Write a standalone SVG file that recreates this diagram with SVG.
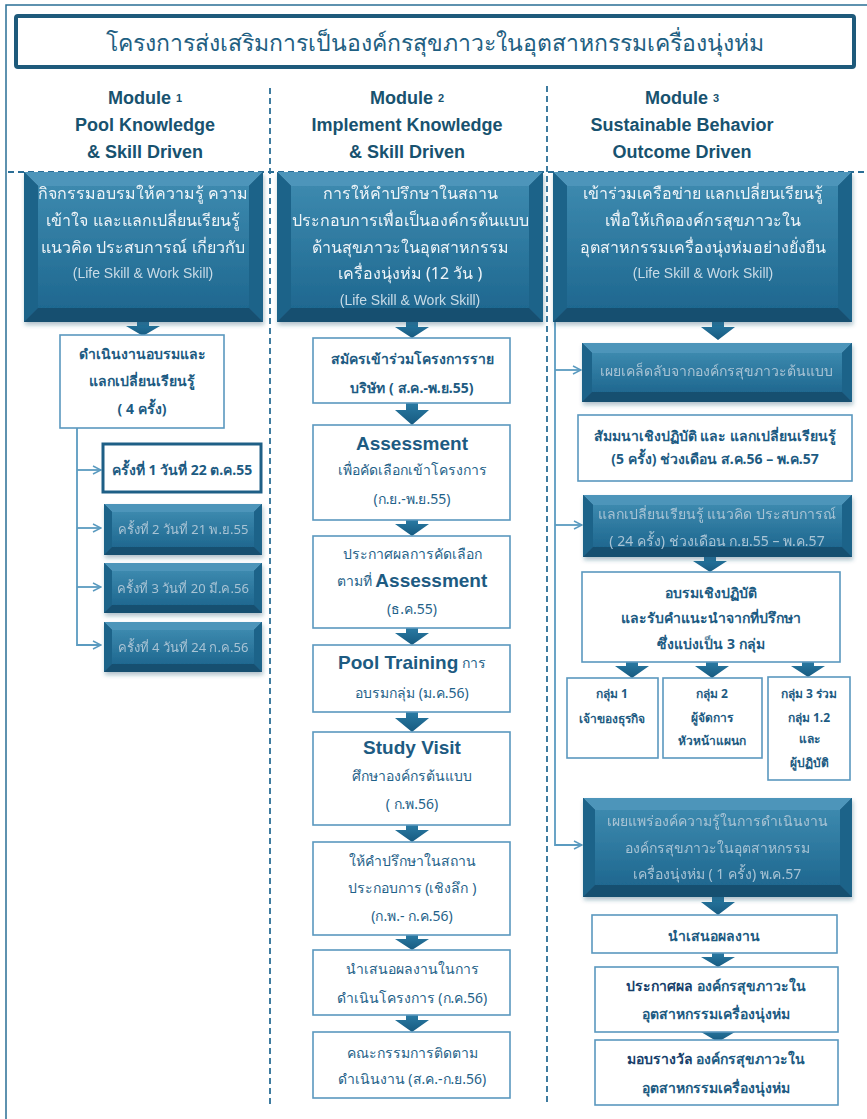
<svg xmlns="http://www.w3.org/2000/svg" width="867" height="1119" viewBox="0 0 867 1119">
<defs>
<linearGradient id="gIn" x1="0" y1="0" x2="0" y2="1"><stop offset="0" stop-color="#3c89ae"/><stop offset="1" stop-color="#1f6890"/></linearGradient>
<linearGradient id="gArr" x1="0" y1="0" x2="0" y2="1"><stop offset="0" stop-color="#2a7aa3"/><stop offset="1" stop-color="#165a80"/></linearGradient>
<filter id="sh" x="-5%" y="-5%" width="115%" height="125%"><feDropShadow dx="1" dy="3" stdDeviation="2" flood-color="#1b4e6b" flood-opacity="0.35"/></filter>
<marker id="chev" viewBox="0 0 10 10" refX="9" refY="5" markerWidth="10" markerHeight="10" markerUnits="userSpaceOnUse" orient="auto"><path d="M1,1 L9,5 L1,9" fill="none" stroke="#5b9bc0" stroke-width="1.5"/></marker>
</defs>
<style>
.t{font-family:"Noto Sans","DejaVu Sans","Liberation Sans",sans-serif;text-anchor:middle;dominant-baseline:central}
.w{fill:#eef4f8;font-size:16px}
.ws{fill:#c9dbe6;font-size:14px;font-family:"Liberation Sans",sans-serif}
.lt{fill:#a8c3d4;font-size:14px}
.lts{fill:#a8c3d4;font-size:13px}
.b{fill:#1f6289;font-size:14px}
.bb{fill:#1d5b82;font-size:14px;font-weight:bold}
.sm{fill:#1d5b82;font-size:12px;font-weight:bold}
.big{font-family:"Liberation Sans",sans-serif;font-size:19px;font-weight:bold;fill:#1d5b82}
.nv{fill:#173f6b;font-weight:bold}
.mh{font-family:"Liberation Sans",sans-serif;font-size:18px;font-weight:bold;fill:#18526f;text-anchor:middle;dominant-baseline:central}
.sub{font-size:11px}
.wb{fill:#ffffff;stroke:#5a98bf;stroke-width:1.6}
.sep{fill:none;stroke:#2b6e96;stroke-width:1.8;stroke-dasharray:6 4}
.con{fill:none;stroke:#5b9bc0;stroke-width:1.8}
.arr{fill:url(#gArr)}
.bt{fill:#4d95ba}.bs{fill:#1f6489}.bo{fill:#174f70}.bi{fill:url(#gIn)}
</style>

<path d="M6,1119 V5 H867" fill="none" stroke="#2a6f95" stroke-width="1.5"/>
<g id="title">
<rect x="16" y="16" width="838" height="51" fill="#ffffff" stroke="#1e5a7b" stroke-width="4" rx="2"/>
<text class="t" x="435" y="42" font-size="23" fill="#1f5f82">โครงการส่งเสริมการเป็นองค์กรสุขภาวะในอุตสาหกรรมเครื่องนุ่งห่ม</text>
</g>

<g id="separators">
<path class="sep" d="M270,88 V1105 M547,86 V1105 M8,172 H867"/>
</g>

<g id="module-headers">
<text class="mh" x="145" y="98">Module <tspan class="sub">1</tspan></text>
<text class="mh" x="145" y="125">Pool Knowledge</text>
<text class="mh" x="145" y="152">&amp; Skill Driven</text>
<text class="mh" x="407" y="98">Module <tspan class="sub">2</tspan></text>
<text class="mh" x="407" y="125">Implement Knowledge</text>
<text class="mh" x="407" y="152">&amp; Skill Driven</text>
<text class="mh" x="682" y="98">Module <tspan class="sub">3</tspan></text>
<text class="mh" x="682" y="125">Sustainable Behavior</text>
<text class="mh" x="682" y="152">Outcome Driven</text>
</g>

<g id="connectors">
<path class="con" d="M77,428 V645 H101" marker-end="url(#chev)"/>
<path class="con" d="M77,470 H101" marker-end="url(#chev)"/>
<path class="con" d="M77,528 H101" marker-end="url(#chev)"/>
<path class="con" d="M77,587 H101" marker-end="url(#chev)"/>
<path class="con" d="M555,322 V845 H582" marker-end="url(#chev)"/>
<path class="con" d="M555,370 H581" marker-end="url(#chev)"/>
<path class="con" d="M555,525 H582" marker-end="url(#chev)"/>
<path class="arr" d="M137,322 H149 V326 H160 L143,336 L126,326 H137 Z"/>
<path class="arr" d="M406,322 H418 V327 H429 L412,338 L395,327 H406 Z"/>
<path class="arr" d="M406,403 H418 V410 H429 L412,425 L395,410 H406 Z"/>
<path class="arr" d="M406,520 H418 V524 H429 L412,536 L395,524 H406 Z"/>
<path class="arr" d="M406,628 H418 V633 H429 L412,645 L395,633 H406 Z"/>
<path class="arr" d="M406,712 H418 V718 H429 L412,732 L395,718 H406 Z"/>
<path class="arr" d="M406,825 H418 V830 H429 L412,842 L395,830 H406 Z"/>
<path class="arr" d="M406,935 H418 V939 H429 L412,950 L395,939 H406 Z"/>
<path class="arr" d="M406,1015 H418 V1020 H429 L412,1032 L395,1020 H406 Z"/>
<path class="arr" d="M712,322 H724 V327 H735 L718,340 L701,327 H712 Z"/>
<path class="arr" d="M704,557 H716 V561 H727 L710,572 L693,561 H704 Z"/>
<path class="arr" d="M626,662 H638 V666 H649 L632,678 L615,666 H626 Z"/>
<path class="arr" d="M706,662 H718 V666 H729 L712,678 L695,666 H706 Z"/>
<path class="arr" d="M802,662 H814 V666 H825 L808,677 L791,666 H802 Z"/>
<path class="arr" d="M712,897 H724 V902 H735 L718,915 L701,902 H712 Z"/>
<path class="arr" d="M712,953 H724 V957 H735 L718,967 L701,957 H712 Z"/>
<path class="arr" d="M712,1028 H724 V1032 H735 L718,1042 L701,1032 H712 Z"/>
</g>

<!-- Module 1 -->
<g id="m1-top" filter="url(#sh)">
<rect x="24" y="172" width="239" height="150" class="bo"/>
<polygon class="bt" points="24,172 263,172 249,186 38,186"/>
<polygon class="bs" points="24,172 38,186 38,308 24,322"/>
<polygon class="bs" points="263,172 263,322 249,308 249,186"/>
<rect x="38" y="186" width="211" height="122" class="bi"/>
<text class="t w" x="143" y="193">กิจกรรมอบรมให้ความรู้ ความ</text>
<text class="t w" x="143" y="220">เข้าใจ และแลกเปลี่ยนเรียนรู้</text>
<text class="t w" x="143" y="247">แนวคิด ประสบการณ์  เกี่ยวกับ</text>
<text class="t ws" x="143" y="273">(Life Skill &amp; Work Skill)</text>
</g>
<g id="m1-training">
<rect x="60" y="335" width="164" height="93" class="wb"/>
<text class="t bb" x="142" y="353">ดำเนินงานอบรมและ</text>
<text class="t bb" x="142" y="380">แลกเปลี่ยนเรียนรู้</text>
<text class="t bb" x="142" y="408">( 4 ครั้ง)</text>
</g>
<g id="m1-round1">
<rect x="103" y="444" width="158" height="48" fill="#ffffff" stroke="#1e5f86" stroke-width="3"/>
<text class="t bb" x="182" y="469" font-size="13">ครั้งที่ 1 วันที่ 22 ต.ค.55</text>
</g>
<g id="m1-round2" filter="url(#sh)">
<rect x="104" y="504" width="158" height="51" class="bo"/>
<polygon class="bt" points="104,504 262,504 254,512 112,512"/>
<polygon class="bs" points="104,504 112,512 112,547 104,555"/>
<polygon class="bs" points="262,504 262,555 254,547 254,512"/>
<rect x="112" y="512" width="142" height="35" class="bi"/>
<text class="t lts" x="183" y="529">ครั้งที่ 2 วันที่ 21 พ.ย.55</text>
</g>
<g id="m1-round3" filter="url(#sh)">
<rect x="104" y="563" width="158" height="50" class="bo"/>
<polygon class="bt" points="104,563 262,563 254,571 112,571"/>
<polygon class="bs" points="104,563 112,571 112,605 104,613"/>
<polygon class="bs" points="262,563 262,613 254,605 254,571"/>
<rect x="112" y="571" width="142" height="34" class="bi"/>
<text class="t lts" x="183" y="588">ครั้งที่ 3 วันที่ 20 มี.ค.56</text>
</g>
<g id="m1-round4" filter="url(#sh)">
<rect x="104" y="622" width="158" height="50" class="bo"/>
<polygon class="bt" points="104,622 262,622 254,630 112,630"/>
<polygon class="bs" points="104,622 112,630 112,664 104,672"/>
<polygon class="bs" points="262,622 262,672 254,664 254,630"/>
<rect x="112" y="630" width="142" height="34" class="bi"/>
<text class="t lts" x="183" y="647">ครั้งที่ 4 วันที่ 24 ก.ค.56</text>
</g>

<!-- Module 2 -->
<g id="m2-top" filter="url(#sh)">
<rect x="277" y="172" width="266" height="150" class="bo"/>
<polygon class="bt" points="277,172 543,172 529,186 291,186"/>
<polygon class="bs" points="277,172 291,186 291,308 277,322"/>
<polygon class="bs" points="543,172 543,322 529,308 529,186"/>
<rect x="291" y="186" width="238" height="122" class="bi"/>
<text class="t w" x="410" y="193">การให้คำปรึกษาในสถาน</text>
<text class="t w" x="410" y="220">ประกอบการเพื่อเป็นองค์กรต้นแบบ</text>
<text class="t w" x="410" y="247">ด้านสุขภาวะในอุตสาหกรรม</text>
<text class="t w" x="410" y="273">เครื่องนุ่งห่ม (12 วัน )</text>
<text class="t ws" x="410" y="300">(Life Skill &amp; Work Skill)</text>
</g>
<g id="m2-apply">
<rect x="313" y="338" width="197" height="65" class="wb"/>
<text class="t bb" x="412" y="358">สมัครเข้าร่วมโครงการราย</text>
<text class="t bb" x="412" y="387">บริษัท ( ส.ค.-พ.ย.55)</text>
</g>
<g id="m2-assessment">
<rect x="313" y="425" width="197" height="95" class="wb"/>
<text class="t big" x="412" y="443">Assessment</text>
<text class="t b" x="412" y="469">เพื่อคัดเลือกเข้าโครงการ</text>
<text class="t b" x="412" y="498">(ก.ย.-พ.ย.55)</text>
</g>
<g id="m2-announce">
<rect x="313" y="536" width="197" height="92" class="wb"/>
<text class="t b" x="412" y="553">ประกาศผลการคัดเลือก</text>
<text class="t b" x="412" y="580">ตามที่ <tspan class="big">Assessment</tspan></text>
<text class="t b" x="412" y="608">(ธ.ค.55)</text>
</g>
<g id="m2-pool">
<rect x="313" y="645" width="197" height="67" class="wb"/>
<text class="t b" x="412" y="662"><tspan class="big">Pool Training</tspan> การ</text>
<text class="t b" x="412" y="692">อบรมกลุ่ม (ม.ค.56)</text>
</g>
<g id="m2-visit">
<rect x="313" y="732" width="197" height="93" class="wb"/>
<text class="t big" x="412" y="747">Study Visit</text>
<text class="t b" x="412" y="775">ศึกษาองค์กรต้นแบบ</text>
<text class="t b" x="412" y="803">( ก.พ.56)</text>
</g>
<g id="m2-consult">
<rect x="313" y="842" width="197" height="93" class="wb"/>
<text class="t b" x="412" y="860">ให้คำปรึกษาในสถาน</text>
<text class="t b" x="412" y="887">ประกอบการ (เชิงลึก )</text>
<text class="t b" x="412" y="915">(ก.พ.- ก.ค.56)</text>
</g>
<g id="m2-present">
<rect x="313" y="950" width="197" height="65" class="wb"/>
<text class="t b" x="412" y="968">นำเสนอผลงานในการ</text>
<text class="t b" x="412" y="997">ดำเนินโครงการ (ก.ค.56)</text>
</g>
<g id="m2-committee">
<rect x="313" y="1032" width="197" height="66" class="wb"/>
<text class="t b" x="412" y="1052">คณะกรรมการติดตาม</text>
<text class="t b" x="412" y="1078">ดำเนินงาน (ส.ค.-ก.ย.56)</text>
</g>

<!-- Module 3 -->
<g id="m3-top" filter="url(#sh)">
<rect x="553" y="172" width="299" height="150" class="bo"/>
<polygon class="bt" points="553,172 852,172 838,186 567,186"/>
<polygon class="bs" points="553,172 567,186 567,308 553,322"/>
<polygon class="bs" points="852,172 852,322 838,308 838,186"/>
<rect x="567" y="186" width="271" height="122" class="bi"/>
<text class="t w" x="703" y="193">เข้าร่วมเครือข่าย  แลกเปลี่ยนเรียนรู้</text>
<text class="t w" x="703" y="220">เพื่อให้เกิดองค์กรสุขภาวะใน</text>
<text class="t w" x="703" y="247">อุตสาหกรรมเครื่องนุ่งห่มอย่างยั่งยืน</text>
<text class="t ws" x="703" y="273">(Life Skill &amp; Work Skill)</text>
</g>
<g id="m3-secrets" filter="url(#sh)">
<rect x="582" y="343" width="270" height="59" class="bo"/>
<polygon class="bt" points="582,343 852,343 842,353 592,353"/>
<polygon class="bs" points="582,343 592,353 592,392 582,402"/>
<polygon class="bs" points="852,343 852,402 842,392 842,353"/>
<rect x="592" y="353" width="250" height="39" class="bi"/>
<text class="t lt" x="716" y="370">เผยเคล็ดลับจากองค์กรสุขภาวะต้นแบบ</text>
</g>
<g id="m3-seminar">
<rect x="578" y="415" width="274" height="66" class="wb"/>
<text class="t bb" x="715" y="435">สัมมนาเชิงปฏิบัติ และ แลกเปลี่ยนเรียนรู้</text>
<text class="t bb" x="715" y="458">(5 ครั้ง) ช่วงเดือน ส.ค.56 – พ.ค.57</text>
</g>
<g id="m3-exchange" filter="url(#sh)">
<rect x="583" y="495" width="269" height="62" class="bo"/>
<polygon class="bt" points="583,495 852,495 842,505 593,505"/>
<polygon class="bs" points="583,495 593,505 593,547 583,557"/>
<polygon class="bs" points="852,495 852,557 842,547 842,505"/>
<rect x="593" y="505" width="249" height="42" class="bi"/>
<text class="t lt" x="717" y="513">แลกเปลี่ยนเรียนรู้ แนวคิด ประสบการณ์</text>
<text class="t lt" x="717" y="540">( 24 ครั้ง) ช่วงเดือน ก.ย.55 – พ.ค.57</text>
</g>
<g id="m3-workshop">
<rect x="582" y="572" width="258" height="90" class="wb"/>
<text class="t bb" x="711" y="592">อบรมเชิงปฏิบัติ</text>
<text class="t bb" x="711" y="617">และรับคำแนะนำจากที่ปรึกษา</text>
<text class="t bb" x="711" y="643">ซึ่งแบ่งเป็น 3 กลุ่ม</text>
</g>
<g id="m3-group1">
<rect x="567" y="678" width="91" height="80" class="wb"/>
<text class="t sm" x="612" y="693">กลุ่ม 1</text>
<text class="t sm" x="612" y="718">เจ้าของธุรกิจ</text>
</g>
<g id="m3-group2">
<rect x="663" y="678" width="99" height="80" class="wb"/>
<text class="t sm" x="712" y="693">กลุ่ม 2</text>
<text class="t sm" x="712" y="717">ผู้จัดการ</text>
<text class="t sm" x="712" y="740">หัวหน้าแผนก</text>
</g>
<g id="m3-group3">
<rect x="768" y="677" width="82" height="103" class="wb"/>
<text class="t sm" x="809" y="693">กลุ่ม 3 ร่วม</text>
<text class="t sm" x="809" y="717">กลุ่ม 1.2</text>
<text class="t sm" x="809" y="738">และ</text>
<text class="t sm" x="809" y="762">ผู้ปฏิบัติ</text>
</g>
<g id="m3-spread" filter="url(#sh)">
<rect x="583" y="798" width="269" height="99" class="bo"/>
<polygon class="bt" points="583,798 852,798 840,810 595,810"/>
<polygon class="bs" points="583,798 595,810 595,885 583,897"/>
<polygon class="bs" points="852,798 852,897 840,885 840,810"/>
<rect x="595" y="810" width="245" height="75" class="bi"/>
<text class="t lt" x="717" y="820">เผยแพร่องค์ความรู้ในการดำเนินงาน</text>
<text class="t lt" x="717" y="847">องค์กรสุขภาวะในอุตสาหกรรม</text>
<text class="t lt" x="717" y="873">เครื่องนุ่งห่ม ( 1 ครั้ง) พ.ค.57</text>
</g>
<g id="m3-present">
<rect x="592" y="915" width="245" height="38" class="wb"/>
<text class="t bb" x="714" y="935">นำเสนอผลงาน</text>
</g>
<g id="m3-announce">
<rect x="595" y="967" width="243" height="65" class="wb"/>
<text class="t bb" x="716" y="985"><tspan class="nv">ประกาศผล</tspan>  องค์กรสุขภาวะใน</text>
<text class="t bb" x="716" y="1013">อุตสาหกรรมเครื่องนุ่งห่ม</text>
</g>
<g id="m3-award">
<rect x="595" y="1040" width="243" height="65" class="wb"/>
<text class="t bb" x="716" y="1058"><tspan class="nv">มอบรางวัล</tspan>  องค์กรสุขภาวะใน</text>
<text class="t bb" x="716" y="1087">อุตสาหกรรมเครื่องนุ่งห่ม</text>
</g>
</svg>
